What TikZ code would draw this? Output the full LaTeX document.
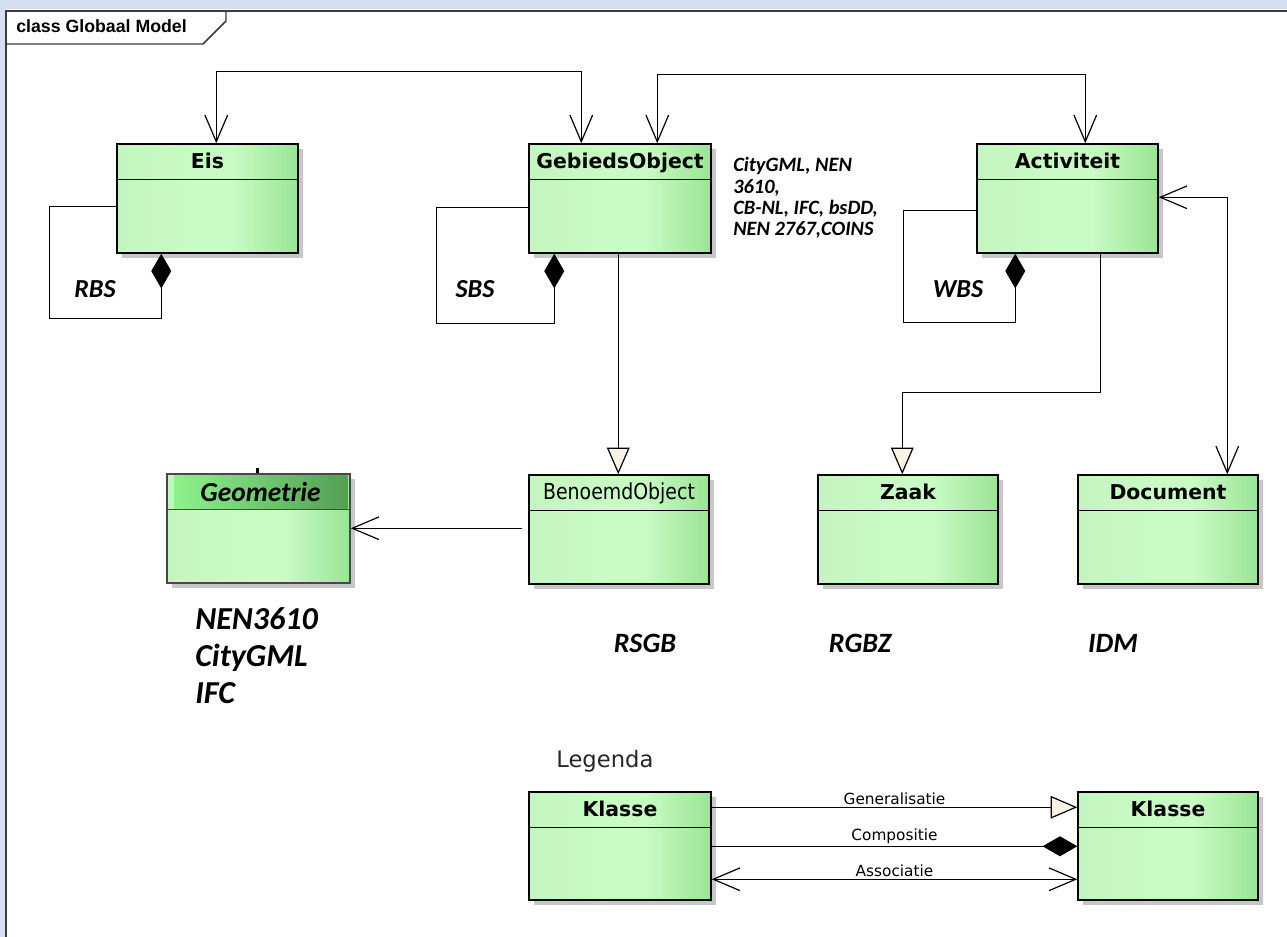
\documentclass[tikz,border=0pt]{standalone}
\usepackage{fontspec}
\setmainfont{DejaVu Sans}
\newfontfamily\labfont{Carlito}
\newfontfamily\narrowfont{DejaVu Sans}[FakeStretch=0.86]
\newfontfamily\framefont{Liberation Sans}
\usetikzlibrary{arrows.meta,calc,fit,shadows}

\definecolor{boxL}{RGB}{196,245,192}
\definecolor{boxM}{RGB}{201,251,197}
\definecolor{boxR}{RGB}{154,228,148}
\definecolor{geoL}{RGB}{142,242,140}
\definecolor{geoR}{RGB}{84,158,84}
\definecolor{geoborder}{RGB}{72,72,72}
\definecolor{tricream}{RGB}{252,242,228}
\definecolor{bgblue}{RGB}{212,223,242}
\definecolor{framegray}{RGB}{60,60,60}

\pgfdeclarehorizontalshading{umlgreen}{100bp}{color(0bp)=(boxL); color(25bp)=(boxL); color(47bp)=(boxM); color(57bp)=(boxM); color(75bp)=(boxR); color(100bp)=(boxR)}

\tikzset{
  classbox/.style={draw=black, line width=1.1pt, shade, shading=umlgreen, inner sep=0pt,
    drop shadow={shadow xshift=4pt, shadow yshift=-4pt, fill=black, opacity=0.22}},
  sepline/.style={line width=1.1pt},
  ctitle/.style={font=\fontsize{15.3pt}{18pt}\selectfont\bfseries, anchor=base, inner sep=0pt},
  ntitle/.style={font=\narrowfont\fontsize{16.5pt}{18pt}\selectfont, anchor=base, inner sep=0pt},
  italab/.style={font=\labfont\fontsize{19.5pt}{22pt}\selectfont\bfseries\itshape, anchor=base, inner sep=0pt},
  biglab/.style={font=\labfont\fontsize{21pt}{24pt}\selectfont\bfseries\itshape, anchor=base, inner sep=0pt},
  conn/.style={line width=0.9pt},
  assoc/.style={conn, arrows={Straight Barb[length=20pt,width=17pt]-Straight Barb[length=20pt,width=17pt]}},
  assocone/.style={conn, arrows={-Straight Barb[length=20pt,width=17pt]}},
  gen/.style={conn, arrows={-Triangle[length=20pt,width=17pt,fill=tricream]}},
  comp/.style={conn, arrows={Diamond[length=26pt,width=15pt]-}},
  compend/.style={conn, arrows={-Diamond[length=26pt,width=15pt]}},
  leglab/.style={font=\fontsize{11.5pt}{13pt}\selectfont, midway, above=1.5pt, inner sep=0pt},
  frameline/.style={draw=framegray, line width=1.1pt}
}

\begin{document}
\begin{tikzpicture}[x=0.75pt,y=-0.75pt]
\useasboundingbox (0,0) rectangle (1287,937);

% window background and diagram frame
\fill[bgblue] (0,0) rectangle (1287,937);
\fill[white] (5,9) rectangle (1287,937);
\draw[frameline] (6,937) -- (6,11) -- (1287,11);
\draw[frameline] (6,44) -- (203,44) -- (226,21) -- (226,11);
\node[anchor=base west, inner sep=0pt, font=\framefont\fontsize{13.3pt}{16pt}\selectfont\bfseries] (framelabel) at (16,33) {class Globaal Model};

% classes
\node[classbox, fit={(117,144) (298,253)}] (eis) {};
\node[classbox, fit={(529,144) (711,253)}] (geb) {};
\node[classbox, fit={(977,144) (1158,253)}] (act) {};
\node[classbox, draw=geoborder, fit={(167,474) (350,583)}] (geo) {};
\node[classbox, fit={(529,475) (709,584)}] (ben) {};
\node[classbox, fit={(818,475) (998,584)}] (zaak) {};
\node[classbox, fit={(1078,475) (1258,584)}] (doc) {};
\node[classbox, fit={(529,792) (711,900)}] (k1) {};
\node[classbox, fit={(1078,792) (1258,900)}] (k2) {};

% darker header band of Geometrie
\shade[left color=geoL, right color=geoR] ($(geo.north west)+(8,2)$) rectangle ($(geo.north east)+(-3,35)$);

% header separators
\foreach \n in {eis,geb,act,ben,zaak,doc,k1,k2}
  \draw[sepline] ($(\n.north west)+(0,36)$) -- ($(\n.north east)+(0,36)$);
\draw[sepline, draw=geoborder] ($(geo.north west)+(0,36)$) -- ($(geo.north east)+(0,36)$);
\fill[black] (256,468) rectangle (258.5,473);

% class names
\node[ctitle] (teis) at ($(eis.north)+(0,25.5)$) {Eis};
\node[ctitle] (tgeb) at ($(geb.north)+(0,25.5)$) {GebiedsObject};
\node[ctitle] (tact) at ($(act.north)+(0,25.5)$) {Activiteit};
\node[ntitle] (tben) at ($(ben.north)+(0,25)$) {BenoemdObject};
\node[ctitle] (tzaak) at ($(zaak.north)+(0,25.5)$) {Zaak};
\node[ctitle] (tdoc) at ($(doc.north)+(0,25.5)$) {Document};
\node[ctitle] (tk1) at ($(k1.north)+(0,25.5)$) {Klasse};
\node[ctitle] (tk2) at ($(k2.north)+(0,25.5)$) {Klasse};
\node[anchor=base, inner sep=0pt, font=\labfont\fontsize{20.6pt}{22pt}\selectfont\bfseries\itshape] (tgeo) at ($(geo.north)+(2,28)$) {Geometrie};

% associations between the top classes
\draw[assoc] ($(eis.north west)+(100,0)$) -- ++(0,-72) -| ($(geb.north west)+(53,0)$);
\draw[assoc] ($(geb.north west)+(129,0)$) -- ++(0,-69) -| ($(act.north west)+(109,0)$);
\draw[assoc] ($(act.north east)+(0,54)$) -| ($(doc.north west)+(150,0)$);

% generalisations
\draw[gen] ($(geb.south west)+(90,0)$) -- ($(ben.north west)+(90,0)$);
\draw[gen] ($(act.south west)+(124,0)$) -- ++(0,139) -| ($(zaak.north west)+(85,0)$);

% BenoemdObject to Geometrie
\coordinate (benL) at ($(ben.north west)+(0,54)$);
\draw[assocone, shorten <=4.5pt] (benL) -- (benL -| geo.east);

% breakdown structures (self compositions)
\draw[comp] ($(eis.south west)+(45,0)$) -- ++(0,65) -| ($(eis.north west)+(-67,63)$) -- ($(eis.north west)+(0,63)$);
\draw[comp] ($(geb.south west)+(26,0)$) -- ++(0,70) -| ($(geb.north west)+(-92,64)$) -- ($(geb.north west)+(0,64)$);
\draw[comp] ($(act.south west)+(39,0)$) -- ++(0,69) -| ($(act.north west)+(-73,67)$) -- ($(act.north west)+(0,67)$);

\node[italab] (rbs) at (95,298) {RBS};
\node[italab] (sbs) at (475,298) {SBS};
\node[italab] (wbs) at (958,298) {WBS};

% standards
\node[anchor=north west, align=left, inner sep=0pt, font=\labfont\fontsize{15.3pt}{16.1pt}\selectfont\bfseries\itshape] (stds) at (733,157)
  {CityGML, NEN\\3610,\\CB-NL, IFC, bsDD,\\NEN 2767,COINS};
\node[anchor=north west, align=left, inner sep=0pt, font=\labfont\fontsize{24pt}{27.75pt}\selectfont\bfseries\itshape] (geostds) at (195,607)
  {NEN3610\\CityGML\\IFC};
\node[biglab] (rsgb) at (645,652) {RSGB};
\node[biglab] (rgbz) at (860,652) {RGBZ};
\node[biglab] (idm) at (1113,652) {IDM};

% legend
\node[anchor=base west, inner sep=0pt, text=black!85, font=\fontsize{17pt}{20pt}\selectfont] (legenda) at (556,767) {Legenda};
\draw[gen] ($(k1.north east)+(0,16)$) -- ($(k2.north west)+(0,16)$) node[leglab] {Generalisatie};
\draw[compend] ($(k1.north east)+(0,55)$) -- ($(k2.north west)+(0,55)$) node[leglab] {Compositie};
\draw[assoc] ($(k1.north east)+(0,88)$) -- ($(k2.north west)+(0,88)$) node[leglab] {Associatie};
\end{tikzpicture}
\end{document}
